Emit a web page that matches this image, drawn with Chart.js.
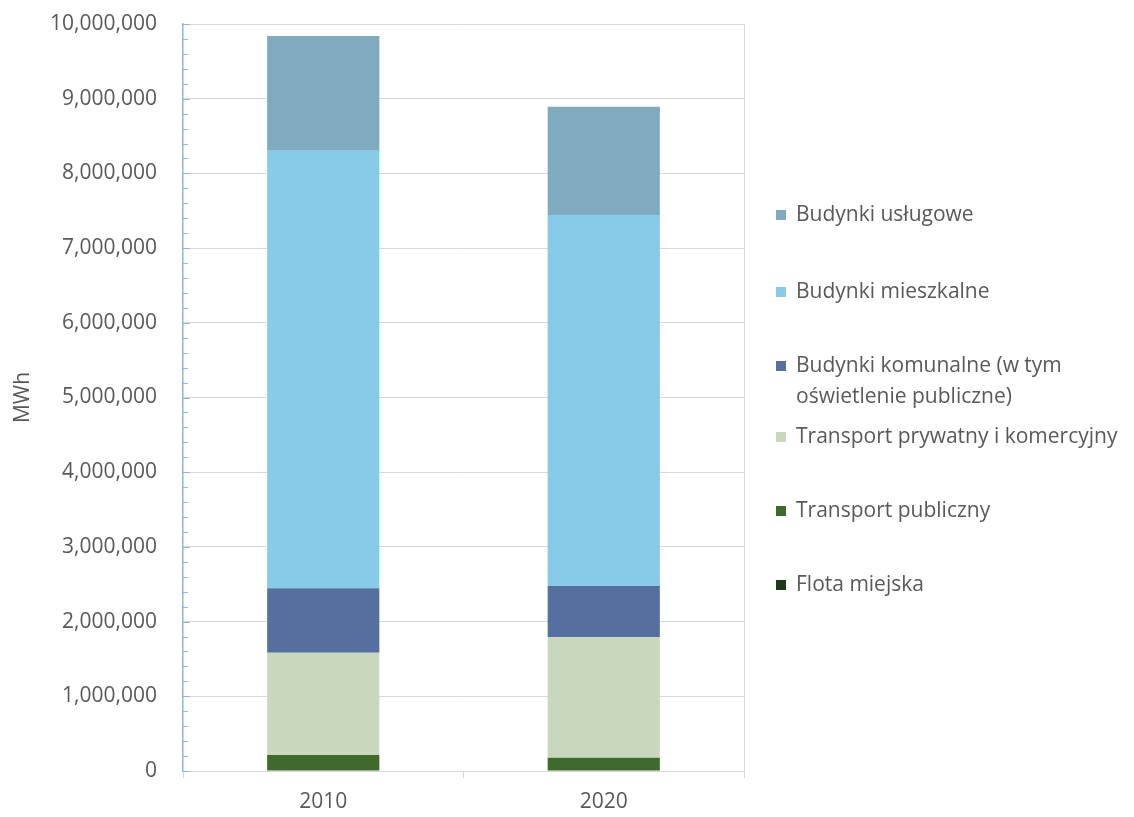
<!DOCTYPE html>
<html>
<head>
<meta charset="utf-8">
<script src="https://cdn.jsdelivr.net/npm/chart.js@4"></script>
<style>
  html, body { margin: 0; padding: 0; background: #fff; }
  #wrap { width: 1134px; height: 817px; }
</style>
</head>
<body>
<div id="wrap"><canvas id="wykres" width="1134" height="817"></canvas></div>
<script>
// Dane: zuzycie energii (MWh)
const lata = ['2010', '2020'];
const flotaMiejska = [10000, 8000];
const transportPubliczny = [204000, 170000];
const transportPrywatny = [1370000, 1612000];
const budynkiKomunalne = [862000, 687000];
const budynkiMieszkalne = [5858000, 4966000];
const budynkiUslugowe = [1535000, 1450000];

const kolory = ['#1e3a1b', '#3e6b2c', '#c9d7bc', '#55709f', '#87cbe8', '#80abbe'];
const etykiety = ['Flota miejska', 'Transport publiczny', 'Transport prywatny i komercyjny',
  ['Budynki komunalne (w tym', 'oświetlenie publiczne)'], 'Budynki mieszkalne', 'Budynki usługowe'];
const serie = [flotaMiejska, transportPubliczny, transportPrywatny, budynkiKomunalne, budynkiMieszkalne, budynkiUslugowe];

const FONT = '"Open Sans", "Noto Sans", sans-serif';
const SZARY = '#595959';
const ROZMIAR = 21;

// Podzialki pomocnicze na osi Y (co 200 000)
const podzialki = {
  id: 'podzialki',
  afterDraw(chart) {
    const y = chart.scales.y;
    const ctx = chart.ctx;
    const x0 = chart.chartArea.left;
    ctx.save();
    ctx.strokeStyle = '#8fb4dc';
    ctx.lineWidth = 1;
    for (let v = 0; v <= 10000000; v += 200000) {
      const py = Math.round(y.getPixelForValue(v)) + 0.5;
      const len = v % 1000000 === 0 ? 7 : 5;
      ctx.beginPath();
      ctx.moveTo(x0, py);
      ctx.lineTo(x0 + len, py);
      ctx.stroke();
    }
    ctx.restore();
  }
};

// Legenda rysowana recznie (odwrocona kolejnosc, etykieta w dwoch liniach)
const legenda = {
  id: 'legenda',
  afterDraw(chart) {
    const ctx = chart.ctx;
    const pozycje = [585, 511, 437, 366, 292, 215];
    ctx.save();
    ctx.font = ROZMIAR + 'px ' + FONT;
    ctx.textBaseline = 'middle';
    chart.data.datasets.forEach((ds, i) => {
      const yy = pozycje[i];
      ctx.fillStyle = ds.backgroundColor;
      ctx.fillRect(776, yy - 5, 10, 10);
      ctx.fillStyle = SZARY;
      const tekst = Array.isArray(ds.label) ? ds.label : [ds.label];
      tekst.forEach((t, k) => ctx.fillText(t, 796, yy + k * 31));
    });
    ctx.restore();
  }
};

new Chart(document.getElementById('wykres'), {
  type: 'bar',
  data: {
    labels: lata,
    datasets: serie.map((s, i) => ({
      label: etykiety[i],
      data: s,
      backgroundColor: kolory[i],
      borderWidth: 0,
      barPercentage: 0.4,
      categoryPercentage: 1
    }))
  },
  options: {
    responsive: false,
    animation: false,
    layout: { padding: { top: 24, right: 390, bottom: 0, left: 0 } },
    plugins: {
      legend: { display: false },
      tooltip: { enabled: false }
    },
    scales: {
      x: {
        stacked: true,
        afterFit: (s) => { s.height = 46; },
        grid: {
          offset: true,
          color: (c) => (c.index === undefined ? '#d9d9d9' : 'transparent'),
          tickColor: '#d9d9d9',
          tickLength: 7
        },
        border: { color: '#d9d9d9' },
        ticks: { color: SZARY, font: { family: FONT, size: ROZMIAR }, padding: 11 }
      },
      y: {
        stacked: true,
        min: 0,
        max: 10000000,
        afterFit: (s) => { s.width = 183; s.paddingTop = 0; s.paddingBottom = 0; },
        ticks: {
          stepSize: 1000000,
          color: SZARY,
          font: { family: FONT, size: ROZMIAR },
          padding: 26,
          callback: (v) => v.toLocaleString('en-US')
        },
        grid: { color: '#d9d9d9', drawTicks: false },
        border: { color: '#8fb4dc', width: 1.5 },
        title: {
          display: true,
          text: 'MWh',
          color: SZARY,
          font: { family: FONT, size: ROZMIAR },
          padding: { top: 10, bottom: 0 }
        }
      }
    }
  },
  plugins: [podzialki, legenda]
});
</script>
</body>
</html>
